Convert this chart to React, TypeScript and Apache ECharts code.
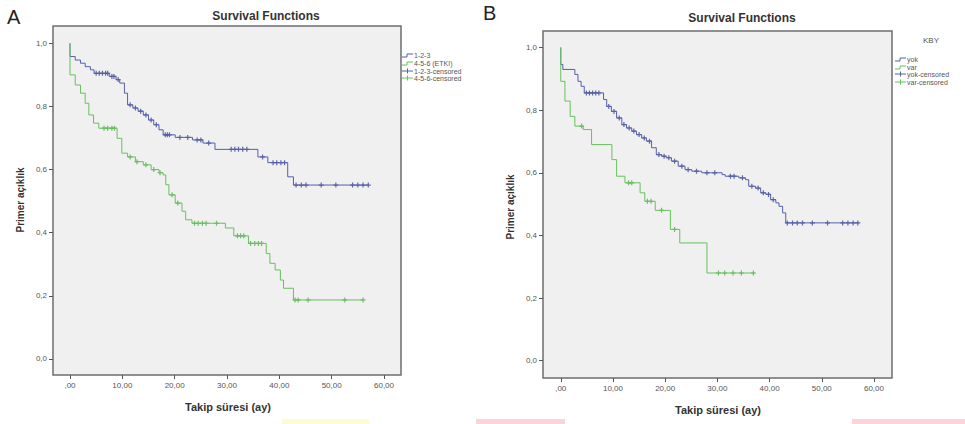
import React, { useEffect, useRef } from "react";
import * as echarts from "echarts";

// ---- axis ticks ----
const xTicks = [0, 10, 20, 30, 40, 50, 60];
const xTickLabels = [",00", "10,00", "20,00", "30,00", "40,00", "50,00", "60,00"];
const yTicks = [0, 0.2, 0.4, 0.6, 0.8, 1.0];
const yTickLabels = ["0,0", "0,2", "0,4", "0,6", "0,8", "1,0"];

// ---- Panel A: groups ----
const aLegend = ["1-2-3", "4-5-6 (ETKI)", "1-2-3-censored", "4-5-6-censored"];
const aBlueTimes = [0, 1.0, 2.0, 2.9, 3.9, 4.6, 7.5, 8.8, 9.5, 10.4, 11.0, 12.0, 13.0, 14.0, 15.0, 16.0, 17.0, 17.8, 20.1, 23.4, 25.4, 27.7, 35.9, 37.8, 41.6, 42.7];
const aBlueSurv = [0.958, 0.947, 0.937, 0.926, 0.916, 0.905, 0.895, 0.885, 0.874, 0.842, 0.805, 0.795, 0.785, 0.773, 0.757, 0.742, 0.726, 0.71, 0.702, 0.694, 0.684, 0.664, 0.64, 0.622, 0.577, 0.551];
const aBlueCensor = [5.0, 5.6, 6.2, 6.8, 7.2, 8.0, 8.4, 9.2, 11.5, 12.5, 13.5, 14.5, 15.5, 16.5, 18.2, 18.6, 19.0, 21.0, 22.5, 24.3, 25.0, 26.5, 30.8, 31.5, 32.2, 33.0, 33.8, 36.8, 38.8, 39.5, 40.3, 41.0, 43.2, 44.2, 45.1, 48.0, 50.8, 54.0, 55.0, 56.0, 57.0];
const aBlueEnd = 57.0;

const aGreenTimes = [0, 1.0, 2.0, 2.9, 3.6, 4.5, 5.5, 9.0, 9.9, 11.0, 12.5, 14.0, 15.5, 17.0, 17.8, 18.3, 18.9, 20.1, 21.4, 22.1, 23.3, 29.7, 31.3, 34.1, 37.5, 38.2, 39.2, 40.2, 40.8, 42.7];
const aGreenSurv = [0.9, 0.868, 0.842, 0.81, 0.773, 0.747, 0.731, 0.699, 0.652, 0.64, 0.625, 0.615, 0.6, 0.59, 0.583, 0.552, 0.52, 0.494, 0.468, 0.441, 0.43, 0.415, 0.39, 0.366, 0.334, 0.303, 0.282, 0.25, 0.224, 0.187];
const aGreenCensor = [6.5, 7.2, 8.0, 8.5, 11.5, 12.8, 14.5, 16.0, 17.2, 19.5, 20.6, 23.8, 24.5, 25.3, 26.0, 28.0, 32.0, 32.6, 33.2, 34.5, 35.3, 36.0, 36.6, 43.0, 43.6, 45.5, 52.5, 56.0];
const aGreenEnd = 56.0;

// ---- Panel B: KBY ----
const bLegendTitle = "KBY";
const bLegend = ["yok", "var", "yok-censored", "var-censored"];
const bBlueTimes = [0, 0.4, 2.7, 3.3, 3.9, 4.5, 8.2, 8.8, 9.7, 10.7, 11.7, 12.6, 13.6, 14.5, 15.5, 16.4, 17.4, 18.3, 19.3, 20.2, 21.2, 22.5, 23.8, 25.1, 27.0, 30.9, 31.5, 34.1, 35.4, 36.0, 37.3, 38.3, 39.3, 40.2, 41.2, 41.8, 42.5, 43.1];
const bBlueSurv = [0.946, 0.93, 0.914, 0.892, 0.876, 0.855, 0.834, 0.812, 0.796, 0.775, 0.754, 0.743, 0.733, 0.722, 0.711, 0.701, 0.68, 0.658, 0.653, 0.648, 0.637, 0.621, 0.61, 0.605, 0.6, 0.594, 0.589, 0.584, 0.578, 0.557, 0.551, 0.536, 0.531, 0.514, 0.504, 0.493, 0.472, 0.44];
const bBlueCensor = [4.9, 5.5, 6.1, 6.7, 7.3, 9.2, 10.2, 11.2, 12.1, 13.1, 14.0, 15.0, 16.0, 17.0, 18.8, 19.8, 20.7, 21.8, 23.2, 24.4, 26.0, 28.0, 29.5, 32.5, 33.2, 34.8, 36.6, 37.8, 38.8, 39.8, 40.7, 43.4, 44.4, 45.3, 46.3, 48.2, 51.1, 54.0, 55.0, 56.0, 56.9];
const bBlueEnd = 57.1;

const bGreenTimes = [0, 0.8, 1.8, 2.7, 4.3, 5.9, 9.8, 10.7, 12.3, 15.2, 16.1, 18.1, 21.0, 22.8, 28.0];
const bGreenSurv = [0.892, 0.829, 0.78, 0.749, 0.738, 0.69, 0.642, 0.589, 0.568, 0.536, 0.509, 0.48, 0.419, 0.376, 0.28];
const bGreenCensor = [4.0, 13.0, 13.6, 16.6, 17.3, 19.3, 21.8, 30.2, 31.4, 33.0, 34.6, 36.9];
const bGreenEnd = 37.2;

const BLUE = "#5560a8";
const BLUE_MARK = "#3d4692";
const GREEN = "#66c25c";
const GREEN_MARK = "#4fae48";
const FONT = "Liberation Sans, Arial, sans-serif";

function survAt(times: number[], surv: number[], t: number) {
  let s = 1;
  for (let i = 0; i < times.length; i++) if (times[i] <= t) s = surv[i];
  return s;
}
function stepData(times: number[], surv: number[], end: number) {
  const d: number[][] = [[0, 1]];
  times.forEach((t, i) => d.push([t, surv[i]]));
  d.push([end, surv[surv.length - 1]]);
  return d;
}
function censorData(times: number[], surv: number[], c: number[]) {
  return c.map((t) => [t, survAt(times, surv, t)]);
}

const PLUS = "path://M0,5 L10,5 M5,0 L5,10";

function xAxisFor(gridIndex: number, min: number, max: number) {
  return {
    type: "value",
    gridIndex,
    min,
    max,
    axisLine: { show: false, onZero: false },
    splitLine: { show: false },
    axisTick: { show: true, customValues: xTicks, length: 4, lineStyle: { color: "#555", width: 1 } },
    axisLabel: {
      customValues: xTicks,
      margin: 6,
      fontSize: 8,
      color: "#555",
      fontFamily: FONT,
      formatter: (v: number) => xTickLabels[Math.round(v / 10)] ?? "",
    },
  };
}
function yAxisFor(gridIndex: number, min: number, max: number) {
  return {
    type: "value",
    gridIndex,
    min,
    max,
    axisLine: { show: false, onZero: false },
    splitLine: { show: false },
    axisTick: { show: true, customValues: yTicks, length: 4, lineStyle: { color: "#555", width: 1 } },
    axisLabel: {
      customValues: yTicks,
      margin: 6,
      fontSize: 8,
      color: "#555",
      fontFamily: FONT,
      formatter: (v: number) => yTickLabels[Math.round(v * 5)] ?? "",
    },
  };
}

function lineSeries(idx: number, data: number[][], color: string) {
  return {
    type: "line",
    xAxisIndex: idx,
    yAxisIndex: idx,
    step: "end",
    data,
    showSymbol: false,
    symbol: "none",
    lineStyle: { color, width: 1 },
    silent: true,
  };
}
function censorSeries(idx: number, data: number[][], color: string) {
  return {
    type: "scatter",
    xAxisIndex: idx,
    yAxisIndex: idx,
    data,
    symbol: PLUS,
    symbolSize: 5,
    itemStyle: { color: "transparent", borderColor: color, borderWidth: 1.2 },
    silent: true,
  };
}

function legendRows(x0: number, ys: number[], labels: string[]) {
  const els: any[] = [];
  const colors = [BLUE, GREEN, BLUE, GREEN];
  ys.forEach((y, i) => {
    if (i < 2) {
      els.push({
        type: "polyline",
        shape: { points: [[x0, y + 2], [x0 + 5, y + 2], [x0 + 5, y - 1], [x0 + 11, y - 1]] },
        style: { stroke: colors[i], lineWidth: 1, fill: "none" },
      });
    } else {
      els.push({ type: "line", shape: { x1: x0, y1: y, x2: x0 + 11, y2: y }, style: { stroke: colors[i], lineWidth: 1 } });
      els.push({ type: "line", shape: { x1: x0 + 5.5, y1: y - 2.5, x2: x0 + 5.5, y2: y + 2.5 }, style: { stroke: colors[i], lineWidth: 1 } });
    }
    els.push({
      type: "text",
      x: x0 + 12,
      y,
      style: { text: labels[i], fontSize: 7, fill: "#555", fontFamily: FONT, textVerticalAlign: "middle", textAlign: "left" },
    });
  });
  return els;
}

export default function App() {
  const ref = useRef<HTMLDivElement>(null);
  useEffect(() => {
    document.body.style.margin = "0";
    if (!ref.current) return;
    const chart = echarts.init(ref.current, undefined, { renderer: "svg" });
    const gridStyle = { show: true, backgroundColor: "#f0f0f0", borderColor: "#6e6e6e", borderWidth: 1.5 };
    const option: any = {
      animation: false,
      backgroundColor: "#ffffff",
      grid: [
        { left: 53, top: 26, width: 348, height: 349, ...gridStyle },
        { left: 543, top: 31, width: 349, height: 347, ...gridStyle },
      ],
      xAxis: [xAxisFor(0, -3.25, 63.25), xAxisFor(1, -3.4, 63.45)],
      yAxis: [yAxisFor(0, -0.0507, 1.0548), yAxisFor(1, -0.0553, 1.0527)],
      series: [
        lineSeries(0, stepData(aBlueTimes, aBlueSurv, aBlueEnd), BLUE),
        lineSeries(0, stepData(aGreenTimes, aGreenSurv, aGreenEnd), GREEN),
        censorSeries(0, censorData(aBlueTimes, aBlueSurv, aBlueCensor), BLUE_MARK),
        censorSeries(0, censorData(aGreenTimes, aGreenSurv, aGreenCensor), GREEN_MARK),
        lineSeries(1, stepData(bBlueTimes, bBlueSurv, bBlueEnd), BLUE),
        lineSeries(1, stepData(bGreenTimes, bGreenSurv, bGreenEnd), GREEN),
        censorSeries(1, censorData(bBlueTimes, bBlueSurv, bBlueCensor), BLUE_MARK),
        censorSeries(1, censorData(bGreenTimes, bGreenSurv, bGreenCensor), GREEN_MARK),
      ],
      graphic: [
        // panel letters
        { type: "text", x: 7, y: 17, style: { text: "A", fontSize: 20, fill: "#222", fontFamily: FONT, textVerticalAlign: "middle" } },
        { type: "text", x: 483, y: 13, style: { text: "B", fontSize: 20, fill: "#222", fontFamily: FONT, textVerticalAlign: "middle" } },
        // titles
        { type: "text", x: 266, y: 16, style: { text: "Survival Functions", fontSize: 12, fontWeight: "bold", fill: "#333", fontFamily: FONT, textAlign: "center", textVerticalAlign: "middle" } },
        { type: "text", x: 742, y: 18, style: { text: "Survival Functions", fontSize: 12, fontWeight: "bold", fill: "#333", fontFamily: FONT, textAlign: "center", textVerticalAlign: "middle" } },
        // axis titles
        { type: "text", x: 228, y: 407, style: { text: "Takip süresi (ay)", fontSize: 11, fontWeight: "bold", fill: "#333", fontFamily: FONT, textAlign: "center", textVerticalAlign: "middle" } },
        { type: "text", x: 718, y: 410, style: { text: "Takip süresi (ay)", fontSize: 11, fontWeight: "bold", fill: "#333", fontFamily: FONT, textAlign: "center", textVerticalAlign: "middle" } },
        { type: "text", x: 20, y: 200, rotation: Math.PI / 2, style: { text: "Primer açıklık", fontSize: 10, fontWeight: "bold", fill: "#333", fontFamily: FONT, textAlign: "center", textVerticalAlign: "middle" } },
        { type: "text", x: 510, y: 207, rotation: Math.PI / 2, style: { text: "Primer açıklık", fontSize: 10, fontWeight: "bold", fill: "#333", fontFamily: FONT, textAlign: "center", textVerticalAlign: "middle" } },
        // legends
        ...legendRows(402, [55, 63, 71, 78], aLegend),
        { type: "text", x: 931, y: 40, style: { text: bLegendTitle, fontSize: 8, fill: "#555", fontFamily: FONT, textAlign: "center", textVerticalAlign: "middle" } },
        ...legendRows(895, [59, 67, 74, 82], bLegend),
        // faint bands at the bottom edge
        { type: "rect", shape: { x: 282, y: 419, width: 87, height: 5 }, style: { fill: "#fdfbd2" } },
        { type: "rect", shape: { x: 476, y: 419, width: 89, height: 5 }, style: { fill: "#fbd3d8" } },
        { type: "rect", shape: { x: 852, y: 419, width: 113, height: 5 }, style: { fill: "#fbd3d8" } },
      ],
    };
    chart.setOption(option);
    return () => chart.dispose();
  }, []);
  return <div ref={ref} style={{ width: 965, height: 424 }} />;
}
